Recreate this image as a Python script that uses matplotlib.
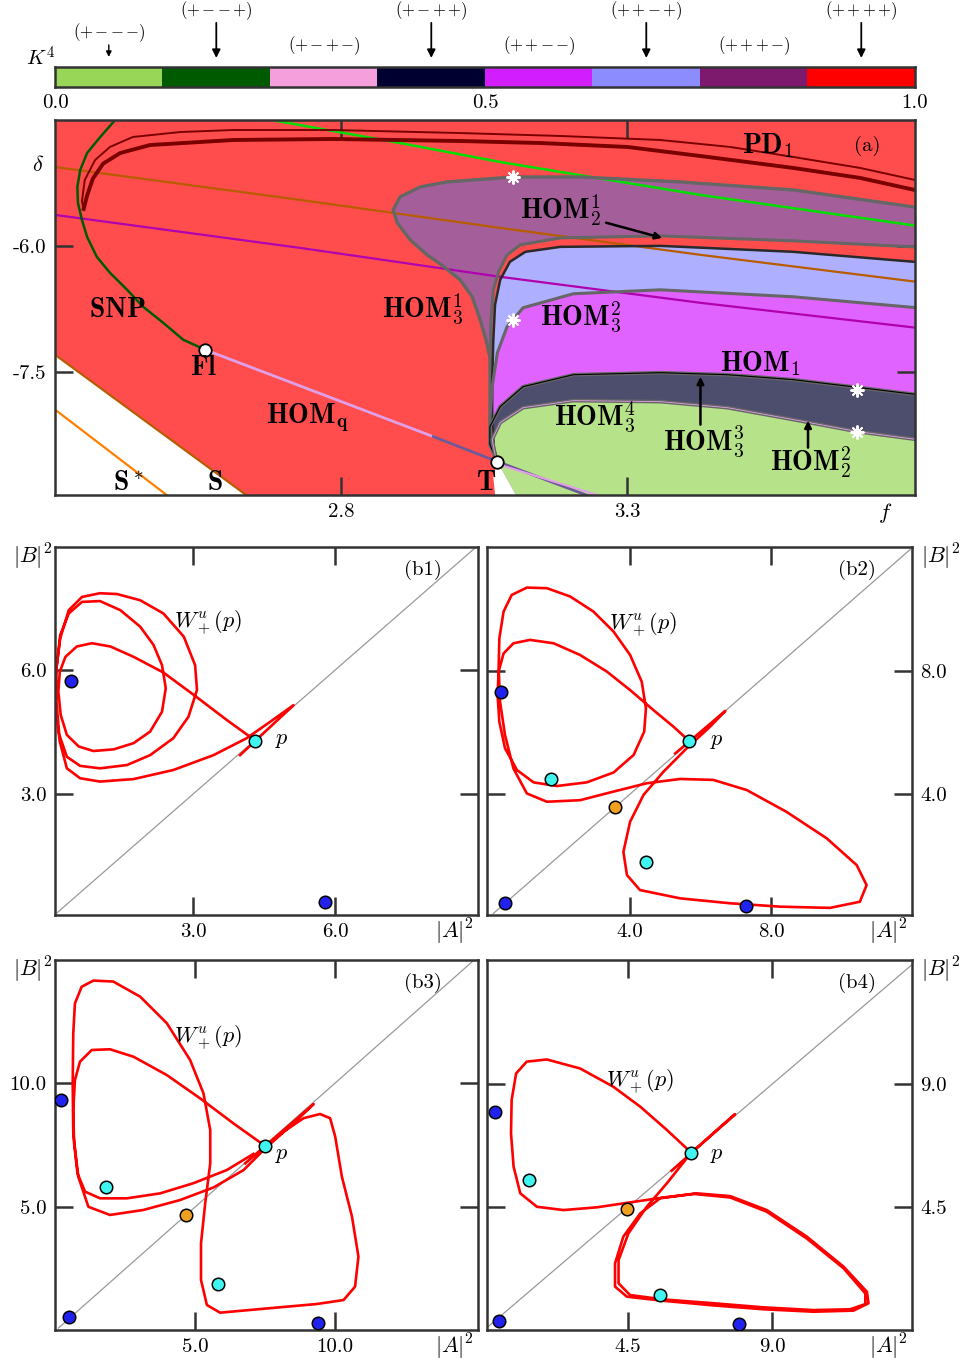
import numpy as np
import matplotlib
matplotlib.use("Agg")
import matplotlib.pyplot as plt
from matplotlib.colors import ListedColormap, to_rgb

plt.rcParams["font.family"] = "cmr10"
plt.rcParams["mathtext.fontset"] = "cm"
plt.rcParams["axes.formatter.use_mathtext"] = True
plt.rcParams["axes.unicode_minus"] = False
plt.rcParams["lines.solid_joinstyle"] = "round"

# ---------------- colour bar K^4 ----------------
k4_colors = ["#97d657", "#005a00", "#f5a0dc", "#000030",
             "#d21eff", "#8c8cff", "#7d1a6e", "#ff0000"]
k4_signs = [r"$({+}\,{-}\,{-}\,{-})$", r"$({+}\,{-}\,{-}\,{+})$", r"$({+}\,{-}\,{+}\,{-})$",
            r"$({+}\,{-}\,{+}\,{+})$", r"$({+}\,{+}\,{-}\,{-})$", r"$({+}\,{+}\,{-}\,{+})$",
            r"$({+}\,{+}\,{+}\,{-})$", r"$({+}\,{+}\,{+}\,{+})$"]
k4_ticks = [0.0, 0.5, 1.0]

# ---------------- panel (a): bifurcation diagram in (f, delta) ----------------
snp_f = [2.405, 2.379, 2.356, 2.344, 2.339, 2.340, 2.347, 2.356, 2.373, 2.396,
         2.426, 2.454, 2.489, 2.524, 2.562]
snp_d = [-4.500, -4.702, -4.893, -5.095, -5.298, -5.488, -5.690, -5.893, -6.131, -6.321,
         -6.524, -6.726, -6.917, -7.119, -7.238]

pd_up_f = [2.350, 2.347, 2.352, 2.370, 2.396, 2.436, 2.519, 2.611, 2.786, 3.008, 3.183,
           3.358, 3.480, 3.590, 3.707, 3.810]
pd_up_d = [-5.560, -5.470, -5.214, -4.976, -4.821, -4.702, -4.643, -4.619, -4.619, -4.655, -4.690,
           -4.738, -4.821, -4.940, -5.071, -5.225]
pd_lo_f = [2.350, 2.356, 2.366, 2.384, 2.414, 2.466, 2.611, 2.786, 3.008, 3.148, 3.300,
           3.428, 3.590, 3.707, 3.810]
pd_lo_d = [-5.560, -5.400, -5.200, -5.020, -4.893, -4.798, -4.738, -4.726, -4.750, -4.774, -4.821,
           -4.929, -5.071, -5.190, -5.345]

green_f = [2.679, 2.903, 3.078, 3.428, 3.810]
green_d = [-4.500, -4.774, -5.000, -5.393, -5.765]
brown_f = [2.300, 2.728, 3.078, 3.428, 3.810]
brown_d = [-5.060, -5.452, -5.786, -6.107, -6.432]
mag_f = [2.300, 2.728, 3.078, 3.428, 3.810]
mag_d = [-5.631, -6.024, -6.369, -6.679, -6.980]

s_f = [2.300, 2.660]
s_d = [-7.298, -9.100]
sstar_f = [2.300, 2.520]
sstar_d = [-7.952, -9.100]

fl_pt = (2.562, -7.238)
t_pt = (3.073, -8.571)
hq_split = (2.961, -8.274)
hq_end = (3.240, -9.000)
hq_end2 = (3.262, -9.000)

hom21_out_f = [3.810, 3.590, 3.393, 3.218, 3.101, 2.985, 2.938, 2.903, 2.891, 2.898,
               2.921, 2.950, 2.973, 3.008, 3.029, 3.043, 3.053, 3.061, 3.062]
hom21_out_d = [-5.545, -5.333, -5.238, -5.179, -5.179, -5.238, -5.298, -5.417, -5.571, -5.726,
               -5.929, -6.107, -6.214, -6.405, -6.607, -6.881, -7.119, -7.357, -7.833]

c1_f = [3.810, 3.590, 3.358, 3.183, 3.113, 3.090, 3.075, 3.066, 3.062, 3.060, 3.060, 3.060, 3.066, 3.073]
c1_d = [-6.015, -5.940, -5.881, -5.905, -5.988, -6.107, -6.310, -6.524, -6.881, -7.357, -7.833, -8.190, -8.429, -8.571]
c2_f = [3.810, 3.590, 3.358, 3.183, 3.122, 3.095, 3.078, 3.069, 3.066, 3.064, 3.064, 3.067, 3.073]
c2_d = [-6.195, -6.071, -6.000, -6.012, -6.071, -6.190, -6.405, -6.702, -7.119, -7.595, -8.071, -8.405, -8.571]
c3_f = [3.810, 3.590, 3.358, 3.206, 3.118, 3.090, 3.073, 3.064, 3.060, 3.064, 3.073]
c3_d = [-6.740, -6.607, -6.524, -6.571, -6.738, -6.964, -7.274, -7.679, -8.071, -8.405, -8.571]
c4_f = [3.810, 3.707, 3.590, 3.475, 3.358, 3.206, 3.118, 3.078, 3.060, 3.060, 3.073]
c4_d = [-7.776, -7.690, -7.595, -7.536, -7.512, -7.536, -7.679, -7.917, -8.155, -8.369, -8.571]
c5_f = [3.810, 3.702, 3.590, 3.475, 3.358, 3.206, 3.118, 3.078, 3.064, 3.069, 3.073]
c5_d = [-8.312, -8.214, -8.071, -7.929, -7.857, -7.845, -7.929, -8.107, -8.310, -8.488, -8.571]

notch_f = [3.073, 3.066, 3.071, 3.116]
notch_d = [-8.571, -8.762, -9.100, -9.100]

star_f = [3.101, 3.101, 3.702, 3.702]
star_d = [-5.179, -6.881, -7.714, -8.214]

# ---------------- panels (b1)-(b4): W^u_+(p) in (|A|^2, |B|^2) ----------------
b1_x = [4.31, 4.17, 3.71, 3.08, 2.37, 1.74, 1.25, 0.86, 0.54, 0.30, 0.18, 0.15, 0.20, 0.33, 0.58,
        0.89, 1.32, 1.74, 2.09, 2.34, 2.42, 2.34, 2.16, 1.88, 1.46, 1.03, 0.65, 0.37, 0.19, 0.11,
        0.11, 0.17, 0.33, 0.61, 1.03, 1.60, 2.09, 2.58, 2.90, 3.08, 3.04, 2.80, 2.37, 1.88, 1.39,
        1.03, 0.65, 0.37, 0.19, 0.09, 0.09, 0.18, 0.33, 0.61, 1.03, 1.74, 2.58, 3.43, 4.13, 4.63,
        5.12, 3.99]
b1_y = [4.28, 4.41, 4.79, 5.34, 5.94, 6.32, 6.57, 6.65, 6.57, 6.32, 5.96, 5.48, 4.91, 4.43, 4.15,
        4.04, 4.08, 4.23, 4.51, 4.99, 5.56, 6.12, 6.61, 7.05, 7.45, 7.67, 7.65, 7.37, 6.85, 6.04,
        5.23, 4.43, 3.90, 3.68, 3.62, 3.70, 3.94, 4.35, 4.87, 5.52, 6.12, 6.81, 7.37, 7.69, 7.84,
        7.86, 7.77, 7.45, 6.77, 5.88, 5.07, 4.27, 3.62, 3.38, 3.30, 3.36, 3.58, 3.94, 4.35, 4.75,
        5.15, 3.94]
b1_blue_x = [0.42, 5.79]
b1_blue_y = [5.73, 0.39]
b1_cyan_x = [4.31]
b1_cyan_y = [4.28]
b1_orange_x = []
b1_orange_y = []

b2_x = [5.68, 5.23, 4.66, 4.00, 3.34, 2.58, 1.83, 1.16, 0.69, 0.41, 0.27, 0.24, 0.29, 0.45, 0.79,
        1.26, 1.92, 2.77, 3.53, 4.10, 4.40, 4.45, 4.33, 4.00, 3.53, 2.96, 2.30, 1.64, 1.07, 0.64,
        0.41, 0.29, 0.27, 0.31, 0.45, 0.69, 1.07, 1.64, 2.58, 3.53, 4.47, 5.42, 6.36, 7.31, 8.44,
        9.58, 10.43, 10.71, 10.52, 9.67, 8.26, 6.84, 5.42, 4.28, 3.91, 3.81, 4.00, 4.38, 4.95, 5.61,
        6.27, 6.70, 5.28]
b2_y = [5.72, 6.19, 6.73, 7.38, 7.98, 8.52, 8.90, 9.01, 8.90, 8.57, 7.98, 7.22, 6.35, 5.49, 4.78,
        4.38, 4.26, 4.38, 4.70, 5.27, 6.03, 6.79, 7.65, 8.52, 9.28, 9.93, 10.42, 10.69, 10.71, 10.47,
        9.93, 9.06, 8.09, 7.00, 5.92, 4.83, 4.02, 3.75, 3.80, 4.08, 4.35, 4.49, 4.46, 4.13, 3.42,
        2.56, 1.69, 1.04, 0.50, 0.30, 0.34, 0.45, 0.61, 0.88, 1.37, 2.12, 3.10, 3.97, 4.73, 5.49,
        6.19, 6.70, 5.32]
b2_blue_x = [0.33, 0.44, 7.28]
b2_blue_y = [7.33, 0.47, 0.36]
b2_cyan_x = [5.68, 1.75, 4.45]
b2_cyan_y = [5.72, 4.48, 1.78]
b2_orange_x = [3.58]
b2_orange_y = [3.59]

b3_x = [7.08, 6.13, 4.94, 3.75, 2.56, 1.61, 1.07, 0.80, 0.68, 0.65, 0.71, 0.89, 1.31, 1.96, 2.80,
        3.99, 5.18, 6.37, 7.50, 8.16, 8.87, 9.46, 9.82, 10.00, 10.24, 10.60, 10.83, 10.71, 10.30, 9.35,
        7.56, 5.89, 5.42, 5.21, 5.21, 5.36, 5.54, 5.54, 5.30, 4.82, 3.99, 3.04, 2.08, 1.37, 0.95,
        0.71, 0.65, 0.63, 0.65, 0.83, 1.19, 1.96, 3.15, 4.46, 5.66, 6.73, 7.50, 8.51, 9.23, 6.79]
b3_y = [7.14, 6.49, 5.96, 5.55, 5.35, 5.35, 5.62, 6.36, 7.57, 8.91, 10.12, 10.86, 11.33, 11.36, 11.06,
        10.32, 9.38, 8.37, 7.46, 8.04, 8.58, 8.75, 8.58, 7.84, 6.22, 4.61, 3.00, 1.79, 1.25, 1.09,
        0.91, 0.74, 1.05, 2.06, 3.53, 5.15, 6.76, 8.10, 9.58, 10.93, 12.41, 13.48, 14.09, 14.13, 13.88,
        13.21, 12.00, 9.99, 7.97, 6.22, 5.01, 4.68, 4.88, 5.28, 5.79, 6.49, 7.36, 8.37, 9.15, 6.76]
b3_blue_x = [0.21, 0.50, 9.37]
b3_blue_y = [9.31, 0.55, 0.31]
b3_cyan_x = [7.50, 1.82, 5.83]
b3_cyan_y = [7.46, 5.82, 1.88]
b3_orange_x = [4.68]
b3_orange_y = [4.68]

b4_x = [5.86, 7.84, 6.47, 5.71, 4.88, 4.04, 3.00, 1.96, 1.33, 1.00, 0.86, 0.84, 0.92, 1.13, 1.65,
        2.48, 3.52, 4.56, 5.60, 6.65, 7.69, 8.83, 10.08, 11.23, 11.96, 12.01, 11.54, 10.29, 8.73, 7.17,
        5.60, 4.46, 4.09, 4.09, 4.35, 4.88, 5.50, 6.54, 7.69, 8.83, 10.08, 11.23, 11.91, 11.91, 11.44,
        10.29, 8.73, 7.17, 5.60, 4.56, 4.20, 4.20, 4.51, 5.08, 5.71, 6.47]
b4_y = [5.83, 7.90, 6.49, 7.32, 8.17, 8.90, 9.57, 9.90, 9.82, 9.39, 8.42, 7.20, 5.98, 5.00, 4.51,
        4.39, 4.49, 4.67, 4.85, 5.00, 4.90, 4.39, 3.42, 2.32, 1.40, 0.98, 0.71, 0.67, 0.76, 0.90,
        1.07, 1.22, 1.59, 2.44, 3.42, 4.27, 4.82, 4.98, 4.85, 4.33, 3.35, 2.26, 1.34, 0.95, 0.76,
        0.73, 0.83, 0.98, 1.12, 1.28, 1.71, 2.56, 3.54, 4.51, 5.37, 6.49]
b4_blue_x = [0.34, 0.47, 7.97]
b4_blue_y = [7.99, 0.34, 0.22]
b4_cyan_x = [6.47, 1.39, 5.50]
b4_cyan_y = [6.49, 5.49, 1.28]
b4_orange_x = [4.46]
b4_orange_y = [4.42]


def lighten(c, a=0.7):
    r = np.array(to_rgb(c))
    return tuple(1 - a * (1 - r))


def style_spines(ax):
    for s in ax.spines.values():
        s.set_linewidth(1.8)
        s.set_color("#333333")


fig = plt.figure(figsize=(9.64, 13.64), dpi=100)

# ---- colour bar ----
ax_cb = fig.add_axes([0.0571, 0.9362, 0.8921, 0.0147])
ax_cb.imshow(np.arange(8).reshape(1, -1), cmap=ListedColormap(k4_colors),
             aspect="auto", extent=[0, 1, 0, 1])
ax_cb.set_xlim(0, 1)
ax_cb.set_ylim(0, 1)
ax_cb.set_xticks(k4_ticks)
ax_cb.set_xticklabels(["%.1f" % t for t in k4_ticks])
ax_cb.set_yticks([])
ax_cb.tick_params(length=0, labelsize=15, pad=5)
style_spines(ax_cb)
for i, lab in enumerate(k4_signs):
    xc = (i + 0.5) / 8
    if i % 2 == 1:
        ax_cb.text(xc, 3.8, lab, ha="center", va="center", fontsize=12, clip_on=False)
        ax_cb.annotate("", xy=(xc, 1.45), xytext=(xc, 3.2), annotation_clip=False,
                       arrowprops=dict(arrowstyle="-|>", color="black", lw=1.3,
                                       mutation_scale=12, shrinkA=0, shrinkB=0))
    elif i == 0:
        ax_cb.text(xc, 2.7, lab, ha="center", va="center", fontsize=12, clip_on=False)
        ax_cb.annotate("", xy=(xc, 1.5), xytext=(xc, 2.1), annotation_clip=False,
                       arrowprops=dict(arrowstyle="-|>", color="black", lw=1.0,
                                       mutation_scale=8, shrinkA=0, shrinkB=0))
    else:
        ax_cb.text(xc, 2.05, lab, ha="center", va="center", fontsize=12, clip_on=False)
ax_cb.text(-0.017, 1.45, r"$K^4$", ha="center", va="center", fontsize=15,
           transform=ax_cb.transAxes)

# ---- panel (a) ----
ax = fig.add_axes([0.0571, 0.6371, 0.8921, 0.2749])
xlo, xhi, ylo, yhi = 2.3, 3.803, -8.97, -4.5
edge_x, edge_y = 3.9, -9.1

# red background bounded by the S curve
ax.fill([2.2, edge_x, edge_x, s_f[1], s_f[0], 2.2],
        [-4.4, -4.4, edge_y, s_d[1], s_d[0], s_d[0] + 0.15],
        color=lighten(k4_colors[7]), lw=0)


def region(fs, ds, color):
    ff = list(fs) + [t_pt[0], notch_f[-1], edge_x, edge_x]
    dd = list(ds) + [t_pt[1], edge_y, edge_y, ds[0]]
    ax.fill(ff, dd, color=color, lw=0)


region(hom21_out_f, hom21_out_d, lighten(k4_colors[6]))
region(c1_f, c1_d, lighten(k4_colors[7]))
region(c2_f, c2_d, lighten(k4_colors[5]))
region(c3_f, c3_d, lighten(k4_colors[4]))
region(c4_f, c4_d, lighten(k4_colors[3]))
region(c5_f, c5_d, lighten(k4_colors[0]))
ax.fill(notch_f, notch_d, color="white", lw=0)

# straight-ish bifurcation curves
ax.plot(brown_f, brown_d, color="#b85c00", lw=1.6)
ax.plot(mag_f, mag_d, color="#b000b0", lw=1.6)
ax.plot(green_f, green_d, color="#00e000", lw=1.8)
ax.plot(s_f, s_d, color="#b85c00", lw=1.6)
ax.plot(sstar_f, sstar_d, color="#ff8000", lw=1.6)
ax.plot(pd_up_f, pd_up_d, color="#7a0000", lw=1.4)
ax.plot(pd_lo_f, pd_lo_d, color="#7a0000", lw=2.8)
ax.plot(snp_f, snp_d, color="#005a00", lw=1.8)

# homoclinic line from Fl to T and beyond
ax.plot([fl_pt[0], hq_split[0]], [fl_pt[1], hq_split[1]], color="#e0a0e8", lw=2)
ax.plot([hq_split[0], t_pt[0], hq_end[0]], [hq_split[1], t_pt[1], hq_end[1]],
        color="#6e5a96", lw=2)
ax.plot([t_pt[0], hq_end2[0]], [t_pt[1] - 0.03, hq_end2[1]], color="#e0a0e8", lw=1.5)

# region boundaries
gray = "#666666"
ax.plot(hom21_out_f, hom21_out_d, color=gray, lw=2.4)
ax.plot(c1_f, c1_d, color=gray, lw=2.2)
ax.plot(c2_f, c2_d, color="#2a2a2a", lw=1.8)
ax.plot(c3_f, c3_d, color=gray, lw=2.2)
ax.plot(c4_f, c4_d, color=gray, lw=2.6)
ax.plot(c4_f, c4_d, color="black", lw=0.8)
ax.plot(c5_f, c5_d, color=gray, lw=2.6)
ax.plot(c5_f, c5_d, color="#e0a0e8", lw=0.6)

ax.plot(star_f, star_d, ls="none", marker=(8, 2, 0), color="white", ms=10, mew=1.4)
ax.plot([fl_pt[0], t_pt[0]], [fl_pt[1], t_pt[1]], ls="none", marker="o", ms=9,
        mfc="white", mec="black", mew=1.3)

bold = dict(fontsize=20, ha="center", va="center")
ax.text(2.408, -6.762, r"$\mathbf{SNP}$", **bold)
ax.text(2.943, -6.762, r"$\mathbf{HOM}_\mathbf{3}^\mathbf{1}$", **bold)
ax.text(2.559, -7.452, r"$\mathbf{Fl}$", **bold)
ax.text(2.741, -8.048, r"$\mathbf{HOM}_\mathbf{q}$", **bold)
ax.text(2.428, -8.821, r"$\mathbf{S}^*$", **bold)
ax.text(2.580, -8.821, r"$\mathbf{S}$", **bold)
ax.text(3.053, -8.821, r"$\mathbf{T}$", **bold)
ax.text(3.545, -4.810, r"$\mathbf{PD}_\mathbf{1}$", **bold)
ax.text(3.183, -5.571, r"$\mathbf{HOM}_\mathbf{2}^\mathbf{1}$", **bold)
ax.text(3.218, -6.857, r"$\mathbf{HOM}_\mathbf{3}^\mathbf{2}$", **bold)
ax.text(3.533, -7.405, r"$\mathbf{HOM}_\mathbf{1}$", **bold)
ax.text(3.244, -8.048, r"$\mathbf{HOM}_\mathbf{3}^\mathbf{4}$", **bold)
ax.text(3.433, -8.330, r"$\mathbf{HOM}_\mathbf{3}^\mathbf{3}$", **bold)
ax.text(3.620, -8.580, r"$\mathbf{HOM}_\mathbf{2}^\mathbf{2}$", **bold)
arrow = dict(arrowstyle="-|>", color="black", lw=1.8, mutation_scale=10, shrinkA=0, shrinkB=0)
ax.annotate("", xy=(3.361, -5.905), xytext=(3.263, -5.724), arrowprops=arrow)
ax.annotate("", xy=(3.428, -7.560), xytext=(3.428, -8.131), arrowprops=arrow)
ax.annotate("", xy=(3.616, -8.083), xytext=(3.616, -8.405), arrowprops=arrow)
ax.text(0.945, 0.93, "(a)", transform=ax.transAxes, fontsize=15, ha="center", va="center")
ax.text(-0.02, 0.88, r"$\delta$", transform=ax.transAxes, fontsize=16, ha="center", va="center")
ax.text(0.965, -0.048, r"$f$", transform=ax.transAxes, fontsize=16, ha="center", va="center")

ax.set_xlim(xlo, xhi)
ax.set_ylim(ylo, yhi)
ax.set_xticks([2.8, 3.3])
ax.set_xticklabels(["2.8", "3.3"])
ax.set_yticks([-6.0, -7.5])
ax.set_yticklabels(["-6.0", "-7.5"])
ax.tick_params(direction="in", length=13, width=1.8, color="#333333",
               top=True, right=True, labelsize=15, pad=6)
style_spines(ax)

# ---- panels (b1)-(b4) ----
b_panels = [
    ("(b1)", [0.0571, 0.3292, 0.4388, 0.2698], (0.08, 9.02), (0.07, 8.98), [3.0, 6.0], False,
     b1_x, b1_y, b1_blue_x, b1_blue_y, b1_cyan_x, b1_cyan_y, b1_orange_x, b1_orange_y,
     (4.88, 4.31), (3.32, 7.14)),
    ("(b2)", [0.5052, 0.3292, 0.4409, 0.2698], (-0.06, 12.0), (0.07, 12.03), [4.0, 8.0], True,
     b2_x, b2_y, b2_blue_x, b2_blue_y, b2_cyan_x, b2_cyan_y, b2_orange_x, b2_orange_y,
     (6.46, 5.72), (4.38, 9.50)),
    ("(b3)", [0.0571, 0.0249, 0.4388, 0.2713], (0.0, 15.1), (0.04, 14.96), [5.0, 10.0], False,
     b3_x, b3_y, b3_blue_x, b3_blue_y, b3_cyan_x, b3_cyan_y, b3_orange_x, b3_orange_y,
     (8.10, 7.10), (5.48, 11.84)),
    ("(b4)", [0.5052, 0.0249, 0.4409, 0.2713], (0.09, 13.37), (0.0, 13.54), [4.5, 9.0], True,
     b4_x, b4_y, b4_blue_x, b4_blue_y, b4_cyan_x, b4_cyan_y, b4_orange_x, b4_orange_y,
     (7.27, 6.40), (4.88, 9.09)),
]

for (name, rect, xl, yl, ticks, right, cx, cy, bx, by, qx, qy, ox, oy, plab, wlab) in b_panels:
    axb = fig.add_axes(rect)
    axb.plot([0.12, 20], [0.12, 20], color="#999999", lw=0.9)
    axb.plot(cx, cy, color="#ff0000", lw=1.9)
    dot = dict(ls="none", marker="o", ms=9, mec="black", mew=1.1, zorder=5)
    axb.plot(bx, by, mfc="#2222ee", **dot)
    axb.plot(qx, qy, mfc="#40f4f0", **dot)
    axb.plot(ox, oy, mfc="#f0a020", **dot)
    axb.text(plab[0], plab[1], r"$p$", fontsize=16, ha="center", va="center")
    axb.text(wlab[0], wlab[1], r"$W^u_+(p)$", fontsize=16, ha="center", va="center")
    axb.set_xlim(*xl)
    axb.set_ylim(*yl)
    axb.set_xticks(ticks)
    axb.set_xticklabels(["%.1f" % t for t in ticks])
    axb.set_yticks(ticks)
    axb.set_yticklabels(["%.1f" % t for t in ticks])
    axb.tick_params(direction="in", length=13, width=1.8, color="#333333",
                    top=True, right=True, labelsize=15, pad=6,
                    labelleft=not right, labelright=right)
    style_spines(axb)
    axb.text(0.87, 0.9375, name, transform=axb.transAxes, fontsize=15, ha="center", va="center")
    axb.text(0.945, -0.046, r"$|A|^2$", transform=axb.transAxes, fontsize=16,
             ha="center", va="center")
    if right:
        axb.text(1.066, 0.973, r"$|B|^2$", transform=axb.transAxes, fontsize=16,
                 ha="center", va="center")
    else:
        axb.text(-0.052, 0.973, r"$|B|^2$", transform=axb.transAxes, fontsize=16,
                 ha="center", va="center")

fig.savefig("out.png", dpi=100)
